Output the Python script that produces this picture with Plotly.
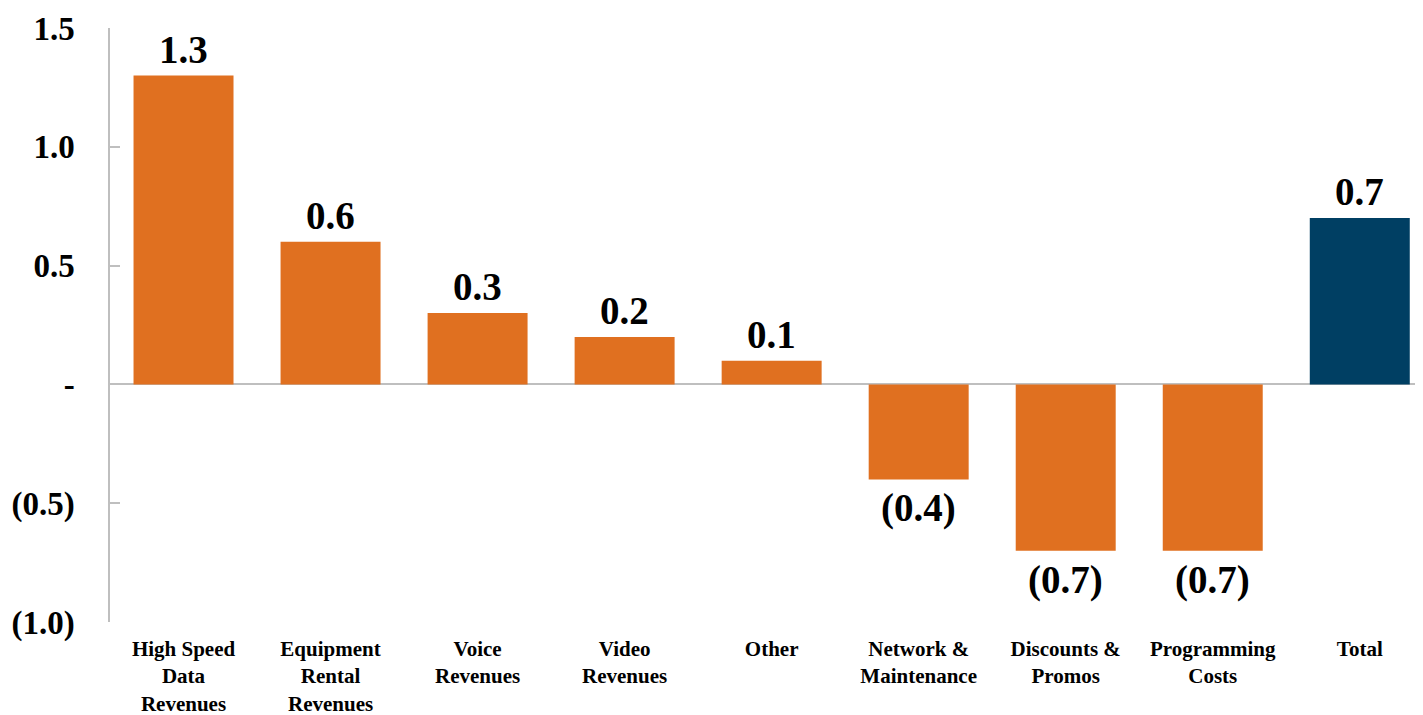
import plotly.graph_objects as go

categories = ["High Speed<br>Data<br>Revenues", "Equipment<br>Rental<br>Revenues", "Voice<br>Revenues",
              "Video<br>Revenues", "Other", "Network &<br>Maintenance", "Discounts &<br>Promos",
              "Programming<br>Costs", "Total"]
values = [1.3, 0.6, 0.3, 0.2, 0.1, -0.4, -0.7, -0.7, 0.7]
bar_colors = ["#E07020"] * 8 + ["#003F63"]
tick_vals = [1.5, 1.0, 0.5, 0.0, -0.5, -1.0]
tick_text = ["1.5", "1.0", "0.5", "-", "(0.5)", "(1.0)"]

def fmt(v):
    return f"{v:.1f}" if v >= 0 else f"({abs(v):.1f})"

FONT = "Liberation Serif, Times New Roman, serif"
x = list(range(len(categories)))

fig = go.Figure()
fig.add_trace(go.Bar(x=x, y=values, marker=dict(color=bar_colors, line=dict(width=0)),
                     width=0.68, hoverinfo="skip"))

for xi, v in zip(x, values):
    fig.add_annotation(x=xi, y=v, text=f"<b>{fmt(v)}</b>", showarrow=False,
                       yanchor="bottom" if v >= 0 else "top",
                       yshift=3 if v >= 0 else -5,
                       font=dict(family=FONT, size=39, color="black"))

fig.update_layout(
    width=1423, height=715,
    margin=dict(l=102, r=8, t=20, b=101, autoexpand=False),
    plot_bgcolor="white", paper_bgcolor="white",
    showlegend=False,
    font=dict(family=FONT, color="black"),
)
fig.update_xaxes(range=[-0.5, 8.43], tickvals=x, ticktext=[f"<b>{c}</b>" for c in categories],
                 tickfont=dict(family=FONT, size=21, color="black"), showgrid=False,
                 showline=False, ticks="", ticklabelstandoff=12, automargin=False)
fig.update_yaxes(range=[-1.0, 1.5], tickvals=tick_vals, ticktext=[f"<b>{t}</b>" for t in tick_text],
                 tickfont=dict(family=FONT, size=33, color="black"), showgrid=False,
                 showline=True, linecolor="#BFBFBF", linewidth=1.5,
                 ticks="inside", ticklen=10, tickcolor="#BFBFBF", tickwidth=1.5,
                 zeroline=True, zerolinecolor="#BFBFBF", zerolinewidth=1.5,
                 ticklabelstandoff=27, automargin=False)

fig.write_html("out.html")
